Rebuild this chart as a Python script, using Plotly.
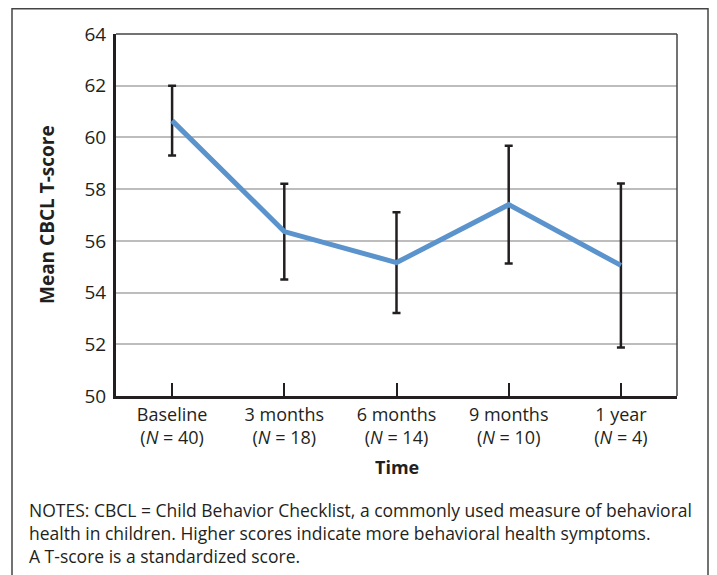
import plotly.graph_objects as go

categories = ["Baseline", "3 months", "6 months", "9 months", "1 year"]
n_values = [40, 18, 14, 10, 4]
means = [60.65, 56.36, 55.16, 57.40, 55.05]
errors = [1.35, 1.85, 1.95, 2.28, 3.17]
y_ticks = [50, 52, 54, 56, 58, 60, 62, 64]

tick_text = [f"{c}<br>(<i>N</i> = {n})" for c, n in zip(categories, n_values)]
FONT = "Open Sans"
TXT = "#231f20"

# plot-area geometry inside the div (page body has 8px margin)
L, R, T, B = 108, 669, 26, 388
W, H = 709, 567
PW, PH = R - L, B - T


def px(x):
    return (x - L) / PW


def py(y):
    return (B - y) / PH


fig = go.Figure()
fig.add_trace(go.Scatter(
    x=list(range(len(categories))), y=means, mode="lines",
    line=dict(color="#5b93cc", width=5),
    error_y=dict(type="data", array=errors, visible=True, color="#231f20",
                 thickness=2.5, width=4),
    showlegend=False, hoverinfo="skip",
))

fig.update_layout(
    width=W, height=H,
    margin=dict(l=L, r=W - R, t=T, b=H - B),
    paper_bgcolor="white", plot_bgcolor="white",
    font=dict(family=FONT, color=TXT, size=16),
    xaxis=dict(
        range=[-0.5, 4.5], tickmode="array", tickvals=list(range(len(categories))),
        ticktext=tick_text, ticks="inside", ticklen=13, tickwidth=1.5, tickcolor="#231f20",
        showgrid=False, showline=True, linecolor="#231f20", linewidth=3,
        zeroline=False, tickfont=dict(size=18, color=TXT),
        fixedrange=True,
    ),
    yaxis=dict(
        range=[50, 64], tickmode="array", tickvals=y_ticks,
        showgrid=True, gridcolor="#bdbdbd", gridwidth=1.5,
        showline=True, linecolor="#231f20", linewidth=3, zeroline=False,
        ticks="", tickfont=dict(size=19, color=TXT), ticklabelstandoff=3,
        fixedrange=True,
    ),
)

# top and right plot borders (thin)
fig.add_shape(type="line", xref="paper", yref="paper", x0=0, x1=1, y0=1, y1=1,
              line=dict(color="#444444", width=1.5))
fig.add_shape(type="line", xref="paper", yref="paper", x0=1, x1=1, y0=0, y1=1,
              line=dict(color="#444444", width=1.5))
# outer frame
fig.add_shape(type="rect", xref="paper", yref="paper",
              x0=px(4), x1=px(700), y0=py(575), y1=py(0.75),
              line=dict(color="#444444", width=1.5), layer="below")

fig.add_annotation(xref="paper", yref="paper", x=px(39), y=0.5, textangle=-90,
                   xanchor="center", yanchor="middle", showarrow=False,
                   text="<b>Mean CBCL T-score</b>", font=dict(size=19, color=TXT))
fig.add_annotation(xref="paper", yref="paper", x=0.5, y=py(459),
                   xanchor="center", yanchor="middle", showarrow=False,
                   text="<b>Time</b>", font=dict(size=18, color=TXT))

fig.add_annotation(
    xref="paper", yref="paper", x=px(19), y=py(488),
    xanchor="left", yanchor="top", align="left", showarrow=False,
    text=("NOTES: CBCL = Child Behavior Checklist, a commonly used measure of behavioral<br>"
          "health in children. Higher scores indicate more behavioral health symptoms.<br>"
          "A T-score is a standardized score."),
    font=dict(size=17.5, color=TXT, family=FONT),
)

fig.write_html("out.html")
